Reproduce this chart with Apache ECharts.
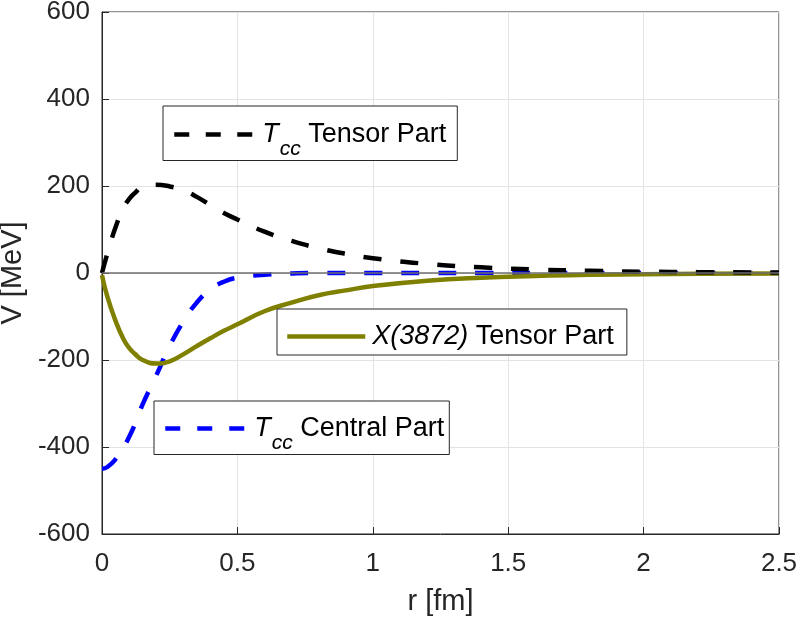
<!DOCTYPE html>
<html>
<head>
<meta charset="utf-8">
<script src="https://cdn.jsdelivr.net/npm/echarts@6/dist/echarts.min.js"></script>
<style>
html,body{margin:0;padding:0;background:#fff;}
#main{width:800px;height:619px;}
</style>
</head>
<body>
<div id="main"></div>
<script>
// r [fm] sample points
var rList = [0, 0.02, 0.05, 0.08, 0.1, 0.12, 0.15, 0.2, 0.25, 0.3, 0.35, 0.4, 0.45, 0.5,
  0.6, 0.7, 0.8, 0.9, 1.0, 1.2, 1.4, 1.6, 1.8, 2.0, 2.2, 2.5];
// Tcc tensor part (black dashed)
var tccTensor = [0, 45, 105, 150, 170, 183, 198, 203, 199, 190, 175, 156, 138, 123,
  95, 74, 57, 44, 34, 21, 13, 8, 5, 3, 2, 1];
// X(3872) tensor part (olive)
var xTensor = [-5, -55, -110, -153, -172, -185, -200, -208, -203, -187, -168, -150, -133, -118,
  -88, -68, -51, -40, -30, -18, -11, -7, -4, -3, -2, -1];
// Tcc central part (blue dashed)
var tccCentral = [-450, -446, -428, -400, -377, -350, -302, -236, -168, -112, -68, -38, -20, -11,
  -4, -1, 0, 0, 0, 0, 0, 0, 0, 0, 0, 0];
var yTicks = [-600, -400, -200, 0, 200, 400, 600];

function pairs(vals){
  return rList.map(function(r, i){ return [r, vals[i]]; });
}

var font = 'Liberation Sans, Arial, sans-serif';
var rich = {
  t:{fontFamily:font, fontStyle:'italic', fontSize:27, color:'#000', padding:[0,0,0,5]},
  s:{fontFamily:font, fontStyle:'italic', fontSize:21, color:'#000', padding:[29,0,0,1]},
  i:{fontFamily:font, fontStyle:'italic', fontSize:27, color:'#000', padding:[0,0,0,2]},
  n:{fontFamily:font, fontSize:27, color:'#000'}
};
var labels = {
  'Tcc Tensor Part':'{t|T}{s|cc}{n| Tensor Part}',
  'X(3872) Tensor Part':'{i|X(3872)}{n| Tensor Part}',
  'Tcc Central Part':'{t|T}{s|cc}{n| Central Part}'
};
function legendBox(name, left, top, pad, w, dash){
  return {
    data:[name], left:left, top:top, orient:'horizontal',
    padding:pad, itemWidth:w, itemHeight:20,
    borderColor:'#262626', borderWidth:1, backgroundColor:'#fff',
    selectedMode:false,
    itemStyle:{opacity:0},
    lineStyle:{width:4.5, type:dash},
    formatter:function(n){ return labels[n]; },
    textStyle:{rich:rich}
  };
}

var myChart = echarts.init(document.getElementById('main'));
myChart.setOption({
  animation:false,
  grid:{left:102, right:21, top:12, bottom:85, outerBoundsMode:'none',
    show:true, borderColor:'#262626', borderWidth:1},
  legend:[
    legendBox('Tcc Tensor Part', 163, 106, [15,11,1,9], 78, [15,16.5]),
    legendBox('X(3872) Tensor Part', 277, 309, [14,13,5,8], 78, 'solid'),
    legendBox('Tcc Central Part', 154, 401, [14,5,1,9], 79, [15,17])
  ],
  xAxis:{
    type:'value', min:0, max:2.5, interval:0.5,
    name:'r [fm]', nameLocation:'middle', nameGap:53,
    nameTextStyle:{fontFamily:font, fontSize:29, color:'#262626'},
    axisLine:{onZero:false, lineStyle:{color:'#262626'}},
    axisTick:{inside:true, length:7, lineStyle:{color:'#262626'}},
    axisLabel:{fontFamily:font, fontSize:26, color:'#262626', margin:17},
    splitLine:{lineStyle:{color:'#e3e3e3'}}
  },
  yAxis:{
    type:'value', min:-600, max:600, interval:200,
    name:'V [MeV]', nameLocation:'middle', nameGap:69,
    nameTextStyle:{fontFamily:font, fontSize:29, color:'#262626'},
    axisLine:{lineStyle:{color:'#262626'}},
    axisTick:{inside:true, length:7, lineStyle:{color:'#262626'}},
    axisLabel:{fontFamily:font, fontSize:26, color:'#262626', margin:12, padding:[6,0,0,0],
      formatter:function(v){ return yTicks.indexOf(v) >= 0 ? String(v) : ''; }},
    splitLine:{lineStyle:{color:'#e3e3e3'}}
  },
  series:[
    {
      name:'Tcc Central Part', type:'line', data:pairs(tccCentral),
      smooth:0.5, symbol:'none', color:'#0000ff',
      lineStyle:{color:'#0000ff', width:4.5, type:[18,19]},
      markLine:{
        silent:true, symbol:'none', label:{show:false},
        lineStyle:{color:'#6e6e6e', width:1.5, type:'solid'},
        data:[{yAxis:0}]
      },
      z:2
    },
    {
      name:'X(3872) Tensor Part', type:'line', data:pairs(xTensor),
      smooth:0.5, symbol:'none', color:'#808000',
      lineStyle:{color:'#808000', width:4.5, type:'solid'},
      z:3
    },
    {
      name:'Tcc Tensor Part', type:'line', data:pairs(tccTensor),
      smooth:0.5, symbol:'none', color:'#000000',
      lineStyle:{color:'#000000', width:4.5, type:[18,19]},
      z:4
    }
  ]
});
</script>
</body>
</html>
